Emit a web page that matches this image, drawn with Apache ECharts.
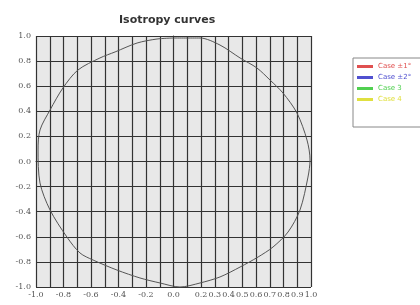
<!DOCTYPE html>
<html>
<head>
<meta charset="utf-8">
<script src="https://cdn.jsdelivr.net/npm/echarts@6/dist/echarts.min.js"></script>
<style>
  html, body { margin: 0; padding: 0; background: #fff; }
  #chart { width: 420px; height: 305px; }
</style>
</head>
<body>
<div id="chart"></div>
<script>
// curve, going round clockwise from the top
const curveX = [-0.004, 0.193, 0.338, 0.484, 0.607, 0.702, 0.796, 0.898, 0.971, 0.993, 0.978, 0.92, 0.833, 0.724, 0.615, 0.484, 0.338, 0.193, 0.047, -0.098, -0.244, -0.411, -0.585, -0.68, -0.775, -0.898, -0.971, -0.985, -0.971, -0.898, -0.804, -0.695, -0.535, -0.425, -0.265, -0.12, -0.004];
const curveY = [0.984, 0.984, 0.928, 0.825, 0.745, 0.649, 0.546, 0.386, 0.171, 0.012, -0.124, -0.386, -0.562, -0.681, -0.761, -0.841, -0.92, -0.968, -1.0, -0.968, -0.928, -0.865, -0.785, -0.729, -0.602, -0.386, -0.171, 0.092, 0.251, 0.41, 0.586, 0.729, 0.825, 0.873, 0.944, 0.976, 0.984];

const legendNames = ['Case ±1°', 'Case ±2°', 'Case 3', 'Case 4'];
const legendColors = ['#e05050', '#5050d0', '#50d050', '#e0e040'];

const chart = echarts.init(document.getElementById('chart'));

const series = legendNames.map((name, i) => ({
    name: name,
    type: 'line',
    data: [],
    color: legendColors[i]
}));
series.push({
    name: 'curve',
    type: 'line',
    data: curveX.map((x, i) => [x, curveY[i]]),
    showSymbol: false,
    smooth: 0.3,
    lineStyle: { color: '#555', width: 1 },
    z: 5
});

chart.setOption({
    animation: false,
    title: {
        text: 'Isotropy curves',
        left: 114,
        top: 10,
        textStyle: { fontSize: 11, fontWeight: 'bold', color: '#333', fontFamily: 'DejaVu Sans' }
    },
    legend: {
        orient: 'vertical',
        left: 353,
        top: 58,
        data: legendNames.map((n, i) => ({ name: n, textStyle: { color: legendColors[i] } })),
        icon: 'rect',
        itemWidth: 16,
        itemHeight: 3,
        itemGap: 4,
        padding: [5, 14, 24, 4],
        borderColor: '#888',
        borderWidth: 1,
        textStyle: { fontSize: 7, fontFamily: 'DejaVu Sans' }
    },
    grid: {
        left: 36,
        right: 109,
        top: 36,
        bottom: 18,
        show: true,
        backgroundColor: '#e8e8e8',
        borderWidth: 0
    },
    xAxis: {
        type: 'value',
        min: -1,
        max: 1,
        interval: 0.1,
        axisLine: { lineStyle: { color: '#333' } },
        axisTick: { show: true, length: 3, lineStyle: { color: '#333' } },
        splitLine: { lineStyle: { color: '#333', width: 1.2 } },
        axisLabel: {
            fontSize: 8,
            color: '#555',
            margin: 4,
            fontFamily: 'DejaVu Serif',
            formatter: v => {
                const t = Math.round(v * 10);
                if (t <= 0 && t % 2 === 0) return (t / 10).toFixed(1);
                if (t >= 2) return (t / 10).toFixed(1);
                return '';
            }
        }
    },
    yAxis: {
        type: 'value',
        min: -1,
        max: 1,
        interval: 0.2,
        axisLine: { show: true, lineStyle: { color: '#333' } },
        axisTick: { show: true, length: 4, lineStyle: { color: '#333' } },
        splitLine: { lineStyle: { color: '#333', width: 1.2 } },
        axisLabel: {
            fontSize: 8,
            color: '#555',
            margin: 5,
            fontFamily: 'DejaVu Serif',
            formatter: v => (Math.round(v * 10) / 10).toFixed(1)
        }
    },
    series: series
});
</script>
</body>
</html>
